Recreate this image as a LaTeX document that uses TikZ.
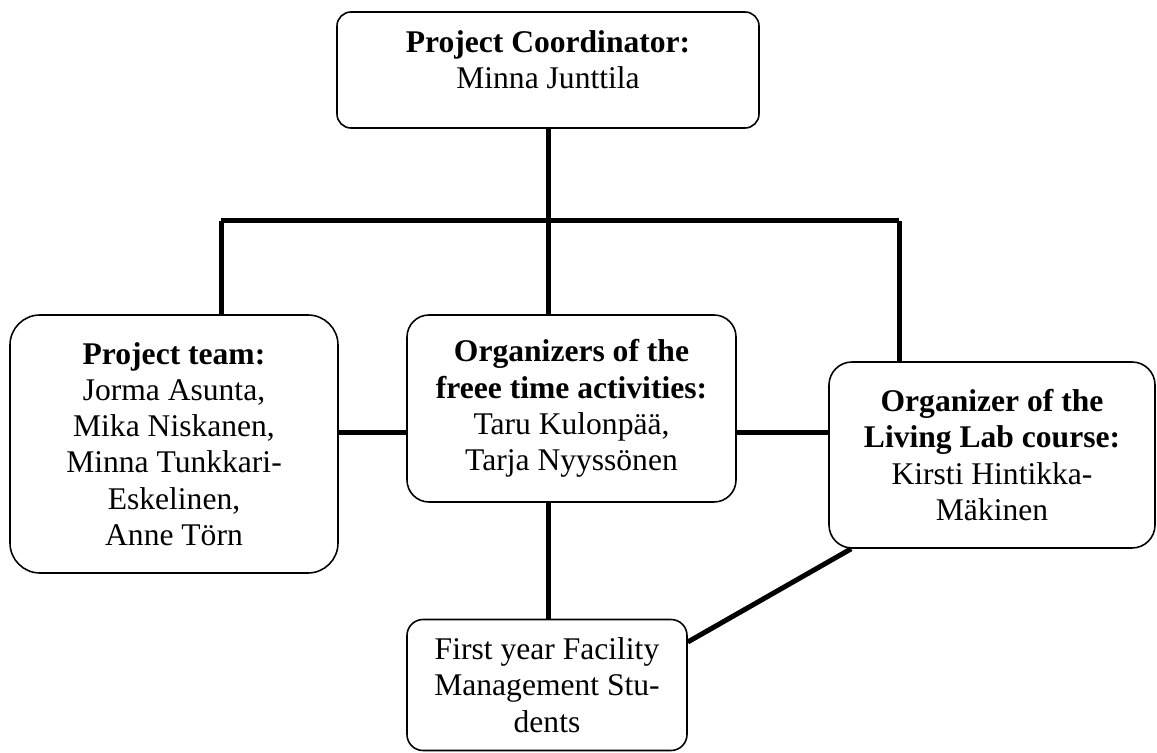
\documentclass[tikz,border=0pt]{standalone}
\usepackage{fontspec}
\setmainfont{Liberation Serif}
\usepackage{tikz}
\usetikzlibrary{positioning}

\begin{document}
\begin{tikzpicture}[x=0.38pt,y=0.38pt,
    orgbox/.style={draw, line width=0.6pt, align=center, inner sep=0pt,
                   font=\fontsize{12}{13.8}\selectfont},
    link/.style={line width=1.9pt}]
  \path[use as bounding box, fill=white] (0,0) rectangle (1157,-753);

  % boxes
  \node[orgbox, rounded corners=14*0.38pt, minimum width=422*0.38pt, minimum height=116*0.38pt, text depth=8pt]
    (coord) at (548,-70) {\textbf{Project Coordinator:}\\Minna Junttila};
  \node[orgbox, rounded corners=30*0.38pt, minimum width=328*0.38pt, minimum height=258*0.38pt]
    (team) at (174,-444) {\textbf{Project team:}\\Jorma Asunta,\\Mika Niskanen,\\Minna Tunkkari-\\Eskelinen,\\Anne Törn};
  \node[orgbox, rounded corners=22*0.38pt, minimum width=329*0.38pt, minimum height=187*0.38pt]
    (free) at (571.5,-408.5) {\textbf{Organizers of the}\\\textbf{freee time activities:}\\Taru Kulonpää,\\Tarja Nyyssönen};
  \node[orgbox, rounded corners=23*0.38pt, minimum width=326*0.38pt, minimum height=186*0.38pt]
    (lab) at (992,-455) {\textbf{Organizer of the}\\\textbf{Living Lab course:}\\Kirsti Hintikka-\\Mäkinen};
  \node[orgbox, rounded corners=16*0.38pt, minimum width=280*0.38pt, minimum height=131*0.38pt]
    (stud) at (547,-685) {First year Facility\\Management Stu-\\dents};

  % connectors
  \coordinate (barL) at (221,-221);
  \coordinate (barM) at (548,-221);
  \coordinate (barR) at (899,-221);
  \coordinate (mid) at (0,-433);
  \draw[link] (coord.south) -- (barM);
  \draw[link] (barL) -- (barR);
  \draw[link] (barL) -- (barL |- team.north);
  \draw[link] (barM) -- (barM |- free.north);
  \draw[link] (barR) -- (barR |- lab.north);
  \draw[link] (team.east |- mid) -- (free.west |- mid);
  \draw[link] (free.east |- mid) -- (lab.west |- mid);
  \draw[link] (free.south -| barM) -- (stud.north -| barM);
  \draw[link] ([xshift=23*0.38pt]lab.south west) -- ([yshift=43*0.38pt]stud.east);
\end{tikzpicture}
\end{document}
